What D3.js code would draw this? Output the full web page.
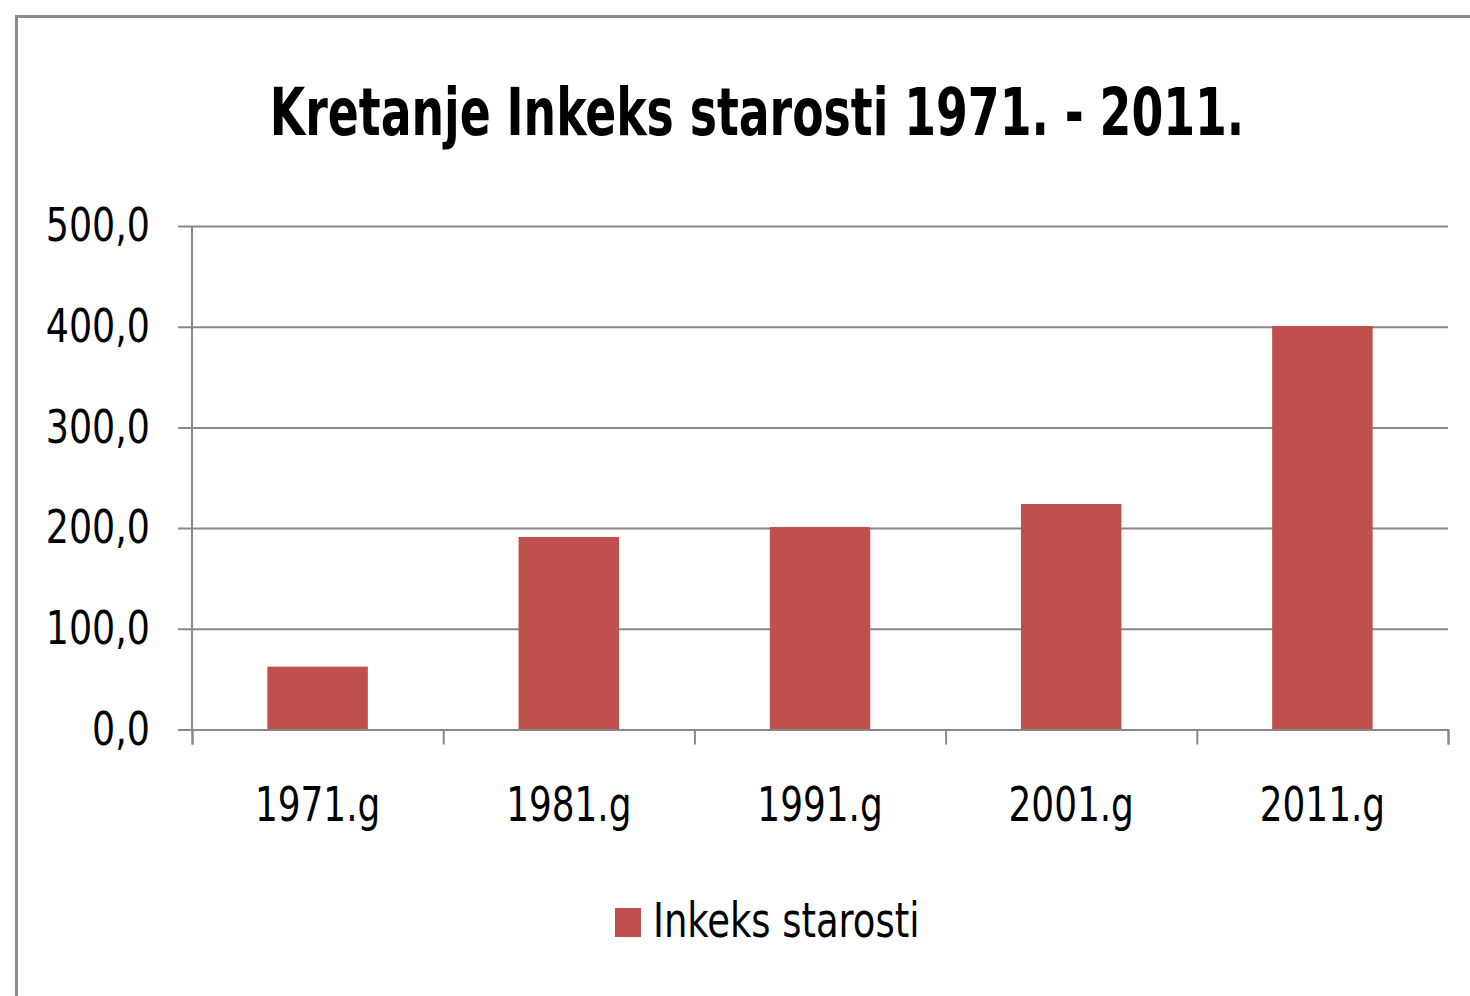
<!DOCTYPE html>
<html>
<head>
<meta charset="utf-8">
<script src="https://cdn.jsdelivr.net/npm/d3@7"></script>
<style>
  body { margin: 0; background: #fff; }
  text { font-family: "Liberation Sans Narrow", "DejaVu Sans Condensed", sans-serif; fill: #000; }
</style>
</head>
<body>
<svg id="chart" width="1470" height="996"></svg>
<script>
// data
var categories = ["1971.g", "1981.g", "1991.g", "2001.g", "2011.g"];
var values = [62.4, 191.2, 201.1, 223.9, 400.7];
var yTicks = [0, 100, 200, 300, 400, 500];
var seriesName = "Inkeks starosti";
var title = "Kretanje Inkeks starosti 1971. - 2011.";

var svg = d3.select("#chart");
var barColor = "#c0504d", gridColor = "#888888";

// the original font is narrower, so squeeze the text a bit
var squeeze = function(sel, k){
    sel.each(function(){
        var w = this.getComputedTextLength();
        d3.select(this).attr("textLength", w * k).attr("lengthAdjust", "spacingAndGlyphs");
    });
};

// outer frame (runs off the right and bottom edge)
svg.append("rect").attr("x", 16.5).attr("y", 16.5)
    .attr("width", 1500).attr("height", 1000)
    .attr("fill", "none").attr("stroke", "#8c8c8c").attr("stroke-width", 3);

svg.append("g").attr("transform", "translate(757,135) scale(0.77,1)")
    .append("text")
    .attr("text-anchor", "middle")
    .style("font-size", "66px").style("font-weight", "bold")
    .text(title);

var y = d3.scaleLinear().domain([0, 500]).range([729.5, 226]);
var x = d3.scaleBand().domain(categories).range([192, 1448])
    .paddingInner(0.6).paddingOuter(0.3);
var xi = d3.scaleLinear().domain([0, categories.length]).range([192, 1448]);

// gridlines + y labels
var yAxis = svg.append("g").attr("transform", "translate(192,0)")
    .call(d3.axisLeft(y).tickValues(yTicks).tickSizeInner(-1256).tickSizeOuter(0)
        .tickPadding(42).tickFormat(function(d){ return d3.format(".1f")(d).replace(".", ","); }));
yAxis.select(".domain").attr("stroke", gridColor).attr("stroke-width", 2)
    .attr("d", "M0," + y(500) + "V" + y(0));
yAxis.selectAll(".tick line").attr("stroke", gridColor).attr("stroke-width", 2)
    .attr("x1", -14);
yAxis.selectAll(".tick text").style("font-size", "46px").attr("fill", "#000")
    .call(squeeze, 0.88);

// bars
svg.selectAll("rect.bar").data(values).enter().append("rect")
    .attr("class", "bar")
    .attr("x", function(d, i){ return x(categories[i]); })
    .attr("width", x.bandwidth())
    .attr("y", function(d){ return y(d); })
    .attr("height", function(d){ return y(0) - y(d); })
    .attr("fill", barColor);

// x axis with ticks on category boundaries
var xTicks = svg.append("g").attr("transform", "translate(0," + y(0) + ")")
    .call(d3.axisBottom(xi).tickValues(d3.range(categories.length + 1)).tickSize(15).tickFormat(""));
xTicks.select(".domain").attr("stroke", gridColor).attr("stroke-width", 2);
xTicks.selectAll(".tick line").attr("stroke", gridColor).attr("stroke-width", 2);

var xLabels = svg.append("g").attr("transform", "translate(0," + y(0) + ")")
    .call(d3.axisBottom(x).tickSize(0).tickPadding(57));
xLabels.select(".domain").remove();
xLabels.selectAll(".tick text").style("font-size", "48px").attr("fill", "#000")
    .call(squeeze, 0.83);

// legend
var legend = svg.append("g").attr("transform", "translate(615,908)");
legend.append("rect").attr("width", 26).attr("height", 29).attr("fill", barColor);
legend.append("text").attr("x", 38).attr("y", 29).style("font-size", "48px").text(seriesName)
    .call(squeeze, 0.855);
</script>
</body>
</html>
